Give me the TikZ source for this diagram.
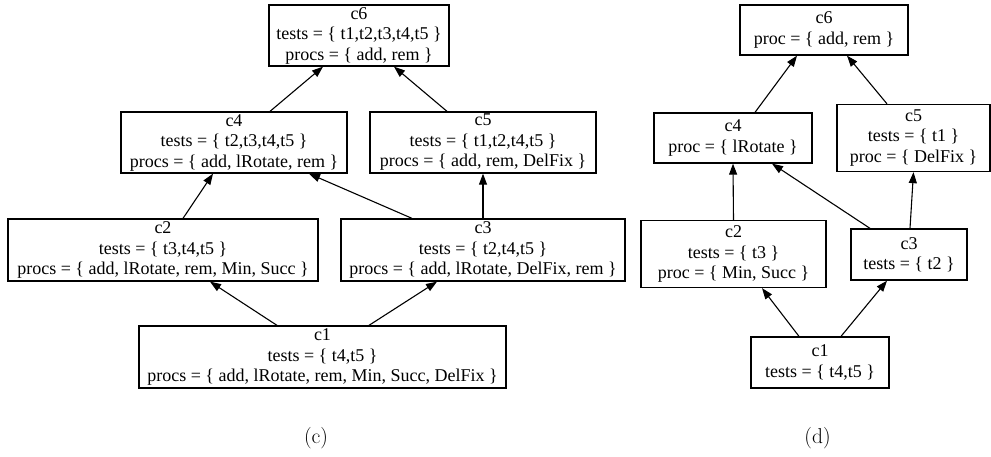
\documentclass[tikz,border=0pt]{standalone}
\usepackage{fontspec}
\newfontfamily\gvfont{Liberation Serif}
\usetikzlibrary{arrows.meta}
\tikzset{
  box/.style={draw, line width=1.3pt, inner sep=0pt, align=center,
    font=\gvfont\fontsize{18}{20.5}\selectfont},
  edge/.style={line width=1.1pt, -{Triangle[length=11pt,width=8pt]}},
  sublabel/.style={font=\fontsize{21.5}{23}\selectfont, inner sep=0pt}
}
\begin{document}
\begin{tikzpicture}[x=1pt,y=-1pt]
\useasboundingbox (0,0) rectangle (991,456);
% ---- (c) ----
\node[box, minimum width=180pt, minimum height=61pt] (L6) at (359,35.5)
  {c6\\tests = \{ t1,t2,t3,t4,t5 \}\\procs = \{ add, rem \}};
\node[box, minimum width=226pt, minimum height=61pt] (L4) at (234,142.5)
  {c4\\tests = \{ t2,t3,t4,t5 \}\\procs = \{ add, lRotate, rem \}};
\node[box, minimum width=226pt, minimum height=61pt] (L5) at (483,142.5)
  {c5\\tests = \{ t1,t2,t4,t5 \}\\procs = \{ add, rem, DelFix \}};
\node[box, minimum width=310pt, minimum height=62pt] (L2) at (163,250)
  {c2\\tests = \{ t3,t4,t5 \}\\procs = \{ add, lRotate, rem, Min, Succ \}};
\node[box, minimum width=284pt, minimum height=62pt] (L3) at (483,250)
  {c3\\tests = \{ t2,t4,t5 \}\\procs = \{ add, lRotate, DelFix, rem \}};
\node[box, minimum width=367pt, minimum height=62pt] (L1) at (322.5,357)
  {c1\\tests = \{ t4,t5 \}\\procs = \{ add, lRotate, rem, Min, Succ, DelFix \}};
\draw[edge] ([xshift=36pt]L4.north) -- ([xshift=-36pt]L6.south);
\draw[edge] ([xshift=-36pt]L5.north) -- ([xshift=35pt]L6.south);
\draw[edge] ([xshift=20pt]L2.north) -- ([xshift=-21pt]L4.south);
\draw[edge] ([xshift=-71pt]L3.north) -- ([xshift=75pt]L4.south);
\draw[edge] (L3.north) -- (L5.south);
\draw[edge] ([xshift=-45.5pt]L1.north) -- ([xshift=47pt]L2.south);
\draw[edge] ([xshift=46.5pt]L1.north) -- ([xshift=-46pt]L3.south);
\node[sublabel] (capc) at (316,438) {(c)};
% ---- (d) ----
\node[box, minimum width=168pt, minimum height=50pt] (R6) at (824,30)
  {c6\\proc = \{ add, rem \}};
\node[box, minimum width=158pt, minimum height=50pt] (R4) at (733,138)
  {c4\\proc = \{ lRotate \}};
\node[box, minimum width=153pt, minimum height=67pt] (R5) at (913.5,138)
  {c5\\tests = \{ t1 \}\\proc = \{ DelFix \}};
\node[box, minimum width=185pt, minimum height=67pt] (R2) at (733.5,254)
  {c2\\tests = \{ t3 \}\\proc = \{ Min, Succ \}};
\node[box, minimum width=116pt, minimum height=51pt] (R3) at (909,254.5)
  {c3\\tests = \{ t2 \}};
\node[box, minimum width=138pt, minimum height=51pt] (R1) at (820,362.5)
  {c1\\tests = \{ t4,t5 \}};
\draw[edge] ([xshift=22pt]R4.north) -- ([xshift=-27pt]R6.south);
\draw[edge] ([xshift=-26.5pt]R5.north) -- ([xshift=23pt]R6.south);
\draw[edge] (R2.north) -- (R4.south);
\draw[edge] ([xshift=-39pt]R3.north) -- ([xshift=39pt]R4.south);
\draw[edge] ([xshift=1pt]R3.north) -- ([xshift=0pt]R5.south);
\draw[edge] ([xshift=-21pt]R1.north) -- ([xshift=28.5pt]R2.south);
\draw[edge] ([xshift=21pt]R1.north) -- ([xshift=-22pt]R3.south);
\node[sublabel] (capd) at (817.5,438) {(d)};
\end{tikzpicture}
\end{document}
